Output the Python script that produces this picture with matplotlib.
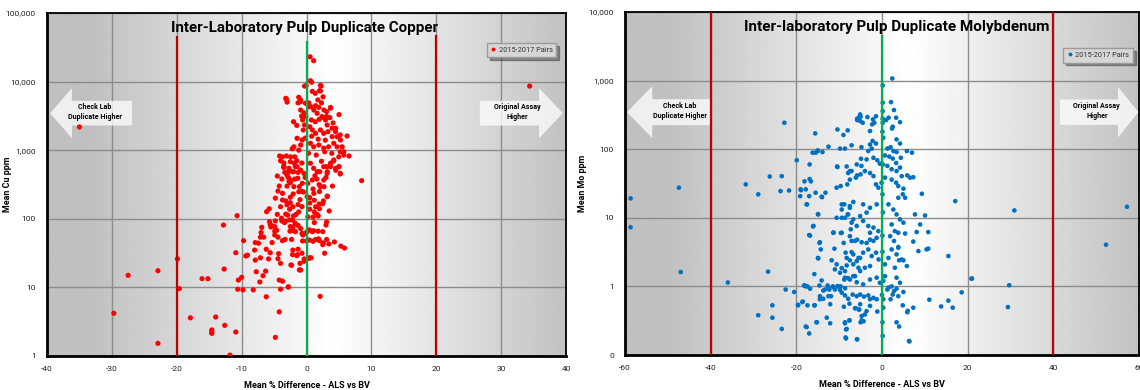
import numpy as np
import matplotlib
matplotlib.use("Agg")
import matplotlib.pyplot as plt
from matplotlib.patches import Polygon
from matplotlib.lines import Line2D

# ---------------------------------------------------------------- data
# Copper pulp duplicates: (mean % difference ALS vs BV, mean Cu ppm)
cu_pairs = [
    (-35.0, 2180), (34.4, 8600), (8.5, 360),
    (-27.5, 15), (-29.7, 4.2), (-22.9, 17.5), (-22.9, 1.53), (-19.9, 26), (-19.6, 9.6),
    (-17.9, 3.6), (-16.1, 13.4), (-15.2, 13.4), (-14.0, 3.7), (-14.6, 2.4), (-14.6, 2.24),
    (-14.6, 2.14), (-12.6, 2.8), (-12.7, 18.5), (-12.8, 81), (-11.8, 1.03), (-10.9, 2.24),
    (-10.9, 32), (-10.7, 111), (-10.5, 12.8), (-10.6, 9.4), (-10.0, 14), (-9.8, 9.2),
    (-9.7, 48), (-9.35, 28.7), (-9.1, 29.5), (-8.2, 9.2), (-6.2, 7.3), (-4.8, 1.87),
    (-4.2, 4.4), (-4.2, 12.8), (-3.7, 12.3), (-4.0, 9.4), (-2.8, 10.2), (2.1, 7.4),
    (-7.75, 16.9), (-6.7, 14.8), (-7.2, 12), (-6.3, 17.3), (-0.9, 17.9), (-1.0, 22.4),
    (-2.4, 21.2), (0.7, 27), (-0.35, 26), (-4.0, 22.4), (-4.4, 26.2), (-5.85, 26),
    (-7.1, 27), (-7.9, 25), (-8.0, 35), (-6.2, 36), (-5.6, 32), (-4.3, 31), (-2.1, 35),
    (-2.15, 30), (-1.3, 36), (-0.7, 31.5), (-1.4, 30), (-1.5, 29), (0.35, 26.5), (2.8, 31.5),
    (5.3, 40), (5.85, 37.5), (4.3, 46), (3.1, 50), (2.0, 48), (1.4, 50), (3.45, 43),
    (2.5, 42), (0.45, 49), (0.0, 47.5), (-0.6, 47.5), (-2.3, 50), (-3.3, 50), (-3.7, 48),
    (-4.4, 54), (-5.3, 45), (-6.6, 54), (-7.1, 54), (-7.9, 45), (-7.4, 44), (1.85, 51),
    (1.0, 47), (0.5, 27), (-0.4, 24), (-1.1, 18), (-2.3, 21), (-2.8, 10.1), (2.6, 44.5),
    (0.1, 65), (0.2, 107),
    (-4.9, 58), (-4.9, 66), (-4.6, 68), (-5.35, 79), (-5.5, 76), (-4.9, 77), (-4.8, 93),
    (-5.7, 91), (-5.6, 83), (-6.9, 75), (-7.0, 63), (-6.15, 127), (-5.75, 140), (-4.5, 116),
    (-3.8, 93), (-3.85, 102), (-3.2, 93), (-3.4, 88), (-2.6, 96), (-2.15, 96), (-2.5, 77),
    (-2.1, 76), (-2.0, 67), (-2.55, 66), (-1.7, 65), (-1.75, 86), (-1.3, 80), (-0.9, 72),
    (-0.7, 61), (-0.25, 61), (-0.55, 58), (0.45, 69), (0.9, 65), (1.1, 67), (1.8, 66),
    (2.5, 65), (3.0, 81), (3.1, 90), (1.8, 110), (1.6, 116), (1.2, 126), (1.4, 150),
    (3.2, 215), (2.5, 166), (1.95, 164), (0.5, 138), (1.0, 106), (1.2, 88), (-1.2, 126),
    (-1.6, 116), (-2.0, 110), (-2.1, 150), (-2.6, 138), (-3.2, 117), (-2.9, 113),
    (-1.3, 161), (-0.7, 150), (-2.5, 206), (-2.05, 230), (-2.5, 172), (-3.2, 182),
    (-3.7, 188), (-3.7, 235), (-2.7, 352), (-2.5, 336), (-3.0, 435), (-2.0, 486),
    (-1.9, 645), (-1.7, 575), (-2.8, 486), (-3.5, 560), (-3.35, 476), (-4.4, 254),
    (-1.3, 474), (-1.35, 389), (-0.65, 329), (-1.1, 294), (-0.7, 251), (-0.45, 245),
    (1.0, 272), (0.5, 203), (1.2, 186), (0.2, 329), (0.9, 368), (1.3, 425), (2.05, 486),
    (1.95, 315), (2.7, 294), (3.2, 210), (2.6, 182), (3.1, 575), (3.75, 645), (5.0, 575),
    (5.2, 450), (4.5, 510),
    (0.55, 23000), (1.1, 20200), (0.6, 10300), (0.8, 9800), (-0.05, 8700), (1.35, 6750),
    (2.15, 7300), (2.25, 8600), (-3.1, 5570), (-3.0, 5030), (-1.2, 5900), (-0.9, 5100),
    (-1.3, 4900), (2.55, 6000), (1.75, 5400), (2.3, 4900), (0.35, 4900), (0.7, 4300),
    (1.4, 4450), (1.9, 4200), (3.7, 4100), (3.1, 3650), (2.7, 3850), (-0.9, 3850),
    (-0.4, 3520), (-0.75, 3150), (-0.1, 3100), (-0.6, 2760), (-0.3, 2330), (-0.5, 1970),
    (0.75, 2760), (1.35, 2600), (1.95, 2820), (2.55, 3020), (3.1, 3100), (3.6, 2980),
    (4.5, 2090), (5.2, 1670), (6.25, 1610), (0.5, 2200), (0.9, 1970), (1.4, 1760),
    (2.15, 1970), (2.65, 1760), (3.3, 1860), (3.95, 1575), (-1.45, 1490), (-0.65, 1410),
    (-0.9, 1190), (-1.95, 1120), (-1.2, 1000), (-4.15, 823), (-3.1, 823), (-2.45, 800),
    (-1.8, 800), (0.6, 1260), (1.1, 1120), (1.9, 1190), (2.65, 1070), (3.4, 1120),
    (4.2, 1260), (4.7, 1120), (5.2, 950), (5.75, 850), (6.55, 823), (-3.5, 575),
    (-2.7, 545), (-2.2, 486), (-1.45, 575), (-0.9, 513), (-0.4, 460), (0.6, 645),
    (1.1, 545), (1.65, 486), (2.65, 575), (3.2, 486), (3.7, 645), (4.5, 545), (5.0, 575),
    (5.2, 460), (-0.3, 8600), (2.15, 8800), (2.0, 7370), (0.9, 7200), (-3.2, 5700),
    (3.7, 4200), (-4.0, 700), (-3.5, 650), (-2.5, 680), (-1.5, 700), (-4.5, 420),
    (-3.8, 380), (-2.8, 400), (-4.2, 300), (-3.0, 300), (-1.8, 380),
    (-0.92, 5400), (-0.15, 4830), (0.36, 4300), (1.13, 3850), (1.64, 3450), (2.41, 3090),
    (2.93, 2760), (3.18, 2330), (3.95, 2090), (4.47, 1860), (4.72, 1570), (5.24, 1410),
    (5.5, 1120), (5.75, 950), (4.98, 800), (4.2, 720), (3.7, 575), (3.18, 460),
    (2.67, 368), (2.16, 294), (1.13, 235), (0.1, 210), (-1.18, 248), (-1.95, 294),
    (-2.46, 368), (-2.97, 460), (-3.5, 575), (-3.74, 800),
    (-4.0, 150), (-3.0, 160), (-1.0, 190), (0.5, 170), (2.0, 140), (3.5, 130), (-4.8, 200),
    (2.0, 250), (4.0, 300), (-0.2, 400), (1.6, 380), (3.0, 400), (4.2, 700), (2.3, 690),
    (0.3, 900), (-0.7, 650), (1.5, 850), (2.8, 950), (3.9, 900), (-2.2, 1050), (-0.2, 1500),
    (0.8, 1600), (1.8, 1450), (2.9, 1400), (-1.5, 2300), (4.1, 2500), (5.0, 3300), (-2.0, 2600),
]

# Molybdenum pulp duplicates: (mean % difference ALS vs BV, mean Mo ppm)
mo_pairs = [
    (-58.7, 19.2), (-58.7, 7.3), (-47.4, 27.5), (-47.0, 1.62), (-36.0, 1.14), (-31.8, 30.7),
    (-28.9, 22), (-26.6, 1.64), (-28.9, 0.38), (-25.6, 0.53), (-25.6, 0.35), (-23.4, 0.24),
    (-22.5, 0.90), (-20.5, 0.83), (-22.8, 243), (-26.2, 40), (-23.4, 40.5), (-23.7, 24.5),
    (-21.7, 25), (-19.9, 69), (57.2, 14.5), (52.3, 4.05), (30.9, 12.8), (29.7, 1.04),
    (29.4, 0.5), (21.0, 1.3), (18.6, 0.82), (15.5, 2.77), (17.1, 17.5), (11.05, 0.64),
    (13.8, 0.51), (15.5, 0.62), (16.5, 0.49), (2.4, 1075), (0.15, 850),
    (-19.6, 0.54), (-18.5, 0.60), (-18.2, 1.03), (-17.8, 1.0), (-17.6, 0.255), (-17.0, 0.206),
    (-17.0, 5.6), (-16.1, 7.5), (-14.95, 11.3), (-17.5, 15.7), (-14.6, 4.3), (-14.3, 3.46),
    (-14.95, 2.6), (-15.8, 1.51), (-14.1, 1.22), (-15.8, 0.53), (-15.2, 0.30), (-13.7, 0.66),
    (-14.5, 0.72), (-12.5, 0.72), (-13.3, 0.90), (-12.9, 0.35), (-12.1, 0.29), (-12.5, 0.96),
    (-11.4, 0.99), (-10.4, 1.01), (-9.65, 1.0), (-8.6, 0.94), (-11.75, 2.4), (-11.1, 3.55),
    (-10.6, 2.1), (-9.4, 1.85), (-8.65, 1.67), (-11.3, 6.1), (-9.6, 6.0), (-8.95, 4.3),
    (-8.5, 3.1), (-8.65, 0.30), (-8.4, 0.236), (-7.6, 0.32), (-8.5, 0.18), (-5.85, 0.17),
    (-6.3, 0.48), (-5.4, 0.46), (-4.75, 0.37), (-4.3, 0.31), (-8.25, 2.6), (-7.5, 2.4),
    (-6.7, 2.1), (-5.9, 2.34), (-5.1, 2.6), (-5.5, 1.87), (-6.7, 1.41), (-7.9, 1.32),
    (-8.8, 1.26), (-7.1, 3.16), (-6.3, 4.6), (-7.3, 6.8), (-6.7, 9.5), (-7.5, 14),
    (-8.8, 15.7), (-9.4, 13.2), (-8.0, 11.2), (-8.65, 10), (-6.7, 17),
    (-15.6, 170), (-10.4, 194), (-9.0, 161), (-8.0, 188), (-5.8, 266), (-5.3, 294),
    (-4.5, 243), (-3.4, 294), (-5.1, 321), (-2.8, 184), (-2.1, 272), (-1.4, 302),
    (-2.3, 230), (-1.8, 243), (0.15, 476), (0.15, 359), (0.15, 279), (0.15, 243),
    (2.1, 486), (2.8, 372), (3.3, 288), (4.2, 248), (1.55, 288), (0.95, 266), (2.35, 200),
    (2.5, 213), (0.3, 147), (3.4, 139), (4.2, 121), (-2.2, 132), (-1.4, 121), (-2.8, 117),
    (-2.4, 102), (-3.2, 94), (1.25, 102), (2.0, 107), (2.65, 94), (3.4, 91), (5.8, 94),
    (7.0, 89), (0.7, 81), (1.7, 78), (2.5, 73), (4.4, 75), (3.3, 63), (-16.2, 89),
    (-15.0, 96), (-13.9, 91), (-12.5, 109), (-9.8, 102), (-8.65, 102), (-7.1, 114),
    (-4.8, 107), (-16.9, 60), (-18.1, 34), (-16.6, 34), (-19.0, 26), (-17.8, 26),
    (-17.0, 20.7), (-17.6, 15.7), (-14.0, 20), (-10.6, 27.5), (-9.65, 29), (-8.1, 30.7),
    (-7.5, 36), (-6.1, 38.5), (-5.8, 41.5), (-5.0, 43), (-4.0, 48), (-2.8, 45), (-2.0, 40.5),
    (-1.4, 30.7), (-0.85, 27.5), (-0.1, 32.5), (1.25, 57), (2.25, 51), (3.4, 48), (4.2, 54),
    (4.6, 40.5), (5.9, 41.5), (6.55, 38.5), (7.3, 39), (0.7, 38.5), (2.25, 36), (3.3, 32.5),
    (3.8, 29), (5.0, 26.6), (4.85, 22), (5.4, 19.6), (3.8, 19.6), (9.3, 22.4), (-10.4, 55),
    (-8.25, 56), (-7.5, 48), (-5.9, 60), (-4.8, 57), (-3.6, 71), (-2.0, 75), (-1.1, 69),
    (-0.5, 61.5), (-14.9, 11.2), (-16.0, 7.6), (-16.8, 5.5), (-14.5, 4.4), (-14.9, 2.56),
    (-16.9, 36.7), (-18.9, 25.3), (-19.1, 20.7), (-15.5, 23.2), (-13.2, 23.2), (-14.1, 20.3),
    (-15.5, 89), (-15.0, 94), (-10.5, 56), (-7.9, 45), (-7.1, 48), (-4.9, 72.5), (-5.1, 257),
    (-5.8, 279), (-5.0, 298),
    (-18.0, 1.03), (-17.4, 1.0), (-16.8, 0.925), (-14.6, 1.03), (-13.7, 0.87), (-12.7, 1.03),
    (-12.3, 0.9), (-11.5, 1.0), (-11.0, 0.9), (-10.2, 1.0), (-9.8, 0.89), (-9.4, 0.81),
    (-8.65, 0.74), (-7.9, 0.66), (-6.85, 0.76), (-5.9, 0.72), (-5.1, 0.76), (-4.2, 0.71),
    (-3.2, 0.74), (-2.8, 0.65), (-2.0, 0.68), (-1.25, 0.65), (-19.6, 0.53), (-18.6, 0.59),
    (-17.4, 0.53), (-15.7, 0.53), (-14.5, 0.65), (-12.1, 0.55), (-11.9, 0.72), (-8.9, 0.505),
    (-7.6, 0.56), (-6.1, 0.48), (-5.3, 0.46), (-3.6, 0.436), (-1.1, 0.43), (-5.1, 0.55),
    (-2.8, 0.52), (-15.3, 0.30), (-17.8, 0.26), (-8.25, 0.24), (-7.6, 0.32), (-8.65, 0.29),
    (-4.75, 0.32), (-4.0, 0.39), (-5.0, 0.30), (-8.4, 0.174), (-5.8, 0.169), (0.15, 0.19),
    (3.4, 0.30), (4.0, 0.26), (6.4, 0.158), (0.3, 1.2), (1.25, 0.9), (0.3, 0.65), (0.3, 0.49),
    (1.5, 0.96), (2.25, 1.0), (2.8, 0.855), (3.4, 0.925), (5.0, 0.83), (3.8, 0.72),
    (2.5, 0.76), (2.0, 0.65), (4.85, 0.53), (5.9, 0.42), (7.3, 0.49), (20.9, 1.3),
    (8.5, 3.27), (10.4, 3.46), (7.3, 4.5), (10.8, 6.2), (8.1, 6.2), (8.9, 8.0), (10.05, 10.8),
    (7.7, 11.2), (5.4, 5.9), (3.8, 3.75), (3.4, 2.93), (5.0, 2.4), (4.0, 2.4), (6.3, 0.16),
    (6.0, 0.44), (10.8, 3.55),
    (-11.4, 6.05), (-9.4, 6.05), (-7.5, 5.4), (-7.1, 4.6), (-5.8, 4.8), (-4.75, 4.4),
    (-3.6, 4.3), (-2.8, 4.8), (-2.0, 4.6), (-1.25, 5.1), (-0.85, 6.4), (-2.0, 7.2),
    (-3.2, 7.6), (-2.8, 6.05), (-4.4, 9.0), (-5.1, 10.6), (-3.6, 11.9), (-2.8, 14),
    (-1.25, 15.7), (-4.4, 15.7), (-7.5, 14.8), (-9.4, 15.7), (-7.9, 11.2), (-7.1, 8.5),
    (-5.9, 7.6), (-10.6, 10), (-9.4, 10), (-6.7, 2.93), (-5.5, 2.6), (-4.4, 3.1),
    (-3.2, 3.46), (-2.4, 2.77), (-1.4, 3.1), (-0.8, 2.47), (-2.8, 1.98), (-4.0, 1.87),
    (-5.1, 1.67), (-6.3, 1.41), (-7.5, 1.26), (-8.65, 1.34), (-9.8, 1.58), (-11.0, 1.77),
    (-8.25, 2.02), (-5.9, 1.15), (-4.4, 1.07), (-2.8, 1.26), (-1.25, 1.34), (-0.5, 1.13),
    (0.7, 1.41), (1.5, 15.7), (2.65, 13.2), (3.4, 11.2), (4.2, 9.5), (5.0, 8.5), (2.25, 8.0),
    (3.0, 6.4), (3.8, 6.05), (1.9, 5.4), (2.8, 4.6), (3.8, 3.67), (2.25, 3.46), (1.5, 2.6),
    (0.7, 2.1), (3.0, 1.87), (4.6, 2.47), (5.8, 1.98), (3.4, 1.34), (4.2, 1.13),
    (0.1, 3.2), (0.1, 5.5), (0.2, 12), (0.1, 22), (0.2, 60), (0.1, 180), (0.0, 0.75),
    (0.1, 0.3),
]

cu_diff = [p[0] for p in cu_pairs]
cu_ppm = [p[1] for p in cu_pairs]
mo_diff = [p[0] for p in mo_pairs]
mo_ppm = [p[1] for p in mo_pairs]

cu_xticks = [-40, -30, -20, -10, 0, 10, 20, 30, 40]
cu_yticks = [1, 10, 100, 1000, 10000, 100000]
cu_ylabels = ["1", "10", "100", "1,000", "10,000", "100,000"]
mo_xticks = [-60, -40, -20, 0, 20, 40, 60]
mo_yticks = [0.1, 1, 10, 100, 1000, 10000]
mo_ylabels = ["0", "1", "10", "100", "1,000", "10,000"]

cu_limits = [-20, 20]
mo_limits = [-40, 40]
series_label = "2015-2017 Pairs"

# ---------------------------------------------------------------- style
FONT = ["Roboto", "DejaVu Sans"]
RED = "#c00000"
GREEN = "#00b050"
CU_COLOR = "#ff0000"
MO_COLOR = "#0070c0"

fig = plt.figure(figsize=(11.4, 3.9), dpi=100)
fig.patch.set_facecolor("white")


def background(rect, center):
    """Horizontal grey-white-grey gradient behind the plot area."""
    bg = fig.add_axes(rect, zorder=0)
    t = np.linspace(0, 1, 600)
    d = np.abs(t - center)
    g = 1.0 - 0.25 * np.clip(d / 0.47, 0, 1)
    bg.imshow(g[np.newaxis, :], cmap="gray", vmin=0, vmax=1, aspect="auto",
              extent=[0, 1, 0, 1], interpolation="bilinear")
    bg.set_xlim(0, 1)
    bg.set_ylim(0, 1)
    bg.axis("off")


def arrow(ax, tip, head_back, tail, yc, head_h, shaft_h):
    """Translucent block arrow in axes-fraction coordinates."""
    pts = [(tip, yc), (head_back, yc + head_h), (head_back, yc + shaft_h),
           (tail, yc + shaft_h), (tail, yc - shaft_h), (head_back, yc - shaft_h),
           (head_back, yc - head_h)]
    ax.add_patch(Polygon(pts, closed=True, transform=ax.transAxes,
                         facecolor="white", edgecolor="none", alpha=0.75, zorder=2))


def panel(rect, bg_center, x, y, color, size, xlim, ylim, xticks, yticks, ylabels,
          limits, green_top, red_tops, title, title_x, title_size, ylabel, ylabel_x,
          arrows, legend_box):
    background(rect, bg_center)
    ax = fig.add_axes(rect, zorder=1)
    ax.patch.set_alpha(0)
    ax.set_yscale("log")
    ax.set_xlim(*xlim)
    ax.set_ylim(*ylim)
    ax.set_xticks(xticks)
    ax.set_xticklabels([str(v) for v in xticks])
    ax.set_yticks(yticks)
    ax.set_yticklabels(ylabels)
    ax.yaxis.set_minor_locator(matplotlib.ticker.NullLocator())
    ax.tick_params(length=0, labelsize=6, colors="#222222")
    ax.tick_params(axis="y", pad=8)
    ax.tick_params(axis="x", pad=7)
    for lab in ax.get_xticklabels() + ax.get_yticklabels():
        lab.set_family(FONT)
    ax.grid(True, which="major", color="#8c8c8c", lw=1.0)
    ax.set_axisbelow(True)
    for side in ["left", "bottom"]:
        ax.spines[side].set_linewidth(2.0)
    for side in ["top", "right"]:
        ax.spines[side].set_linewidth(1.3)

    for (tip, hb, tail, yc, hh, sh) in arrows:
        arrow(ax, tip, hb, tail, yc, hh, sh)

    ax.scatter(x, y, s=size, color=color, edgecolors="none", zorder=4)

    for lim, top in zip(limits, red_tops):
        ax.plot([lim, lim], [ylim[0], top], color=RED, lw=1.6, zorder=5)
    ax.plot([0, 0], [ylim[0], green_top], color=GREEN, lw=1.6, zorder=5)

    ax.text(title_x, 0.957, title, transform=ax.transAxes, ha="center", va="center",
            fontsize=title_size, fontweight="bold", family=FONT, zorder=6)
    ax.set_xlabel("Mean % Difference - ALS vs BV", fontsize=6.5, fontweight="bold",
                  family=FONT)
    ax.xaxis.set_label_coords(0.5, -0.073)
    ax.set_ylabel(ylabel, fontsize=6.4, fontweight="bold", family=FONT)
    ax.yaxis.set_label_coords(ylabel_x, 0.5)

    handle = Line2D([], [], ls="none", marker="o", ms=2.8, color=color, mec="none")
    leg = ax.legend([handle], [series_label], loc="upper right",
                    bbox_to_anchor=legend_box, frameon=True, fancybox=False,
                    shadow=True, fontsize=5.3, handlelength=0.8, handletextpad=0.3,
                    borderpad=0.5, borderaxespad=0)
    leg.get_frame().set_facecolor("#d6d6d6")
    leg.get_frame().set_edgecolor("#9a9a9a")
    leg.get_frame().set_linewidth(1.0)
    for txt in leg.get_texts():
        txt.set_family(FONT)
        txt.set_color("#333333")
    leg.set_zorder(7)
    return ax


def arrow_labels(ax, left_x, right_x):
    ax.text(left_x, 0.711, "Check Lab\nDuplicate Higher", transform=ax.transAxes,
            ha="center", va="center", fontsize=5.1, fontweight="bold", family=FONT,
            linespacing=1.3, zorder=3)
    ax.text(right_x, 0.711, "Original Assay\nHigher", transform=ax.transAxes,
            ha="center", va="center", fontsize=5.1, fontweight="bold", family=FONT,
            linespacing=1.3, zorder=3)


# ---------------------------------------------------------------- copper
cu_rect = [47 / 1140, 34 / 390, 519 / 1140, 343 / 390]
ax1 = panel(cu_rect, 0.55, cu_diff, cu_ppm, CU_COLOR, 14, (-40, 40), (1, 100000),
            cu_xticks, cu_yticks, cu_ylabels, cu_limits, 38000, [44000, 46000],
            "Inter-Laboratory Pulp Duplicate Copper", 0.497, 10.9, "Mean Cu ppm", -0.068,
            [(0.006, 0.048, 0.164, 0.708, 0.073, 0.036),
             (0.994, 0.948, 0.834, 0.708, 0.073, 0.036)],
            (0.981, 0.913))
arrow_labels(ax1, 0.092, 0.906)

# ---------------------------------------------------------------- molybdenum
mo_rect = [625 / 1140, 35 / 390, 514 / 1140, 343 / 390]
ax2 = panel(mo_rect, 0.55, mo_diff, mo_ppm, MO_COLOR, 11, (-60, 60), (0.1, 10000),
            mo_xticks, mo_yticks, mo_ylabels, mo_limits, 4400, [10000, 10000],
            "Inter-laboratory Pulp Duplicate Molybdenum", 0.529, 11.0, "Mean Mo ppm",
            -0.074,
            [(0.004, 0.053, 0.169, 0.708, 0.076, 0.038),
             (0.999, 0.959, 0.846, 0.708, 0.074, 0.037)],
            (0.988, 0.895))
arrow_labels(ax2, 0.107, 0.918)

fig.savefig("out.png", dpi=100, facecolor="white")
